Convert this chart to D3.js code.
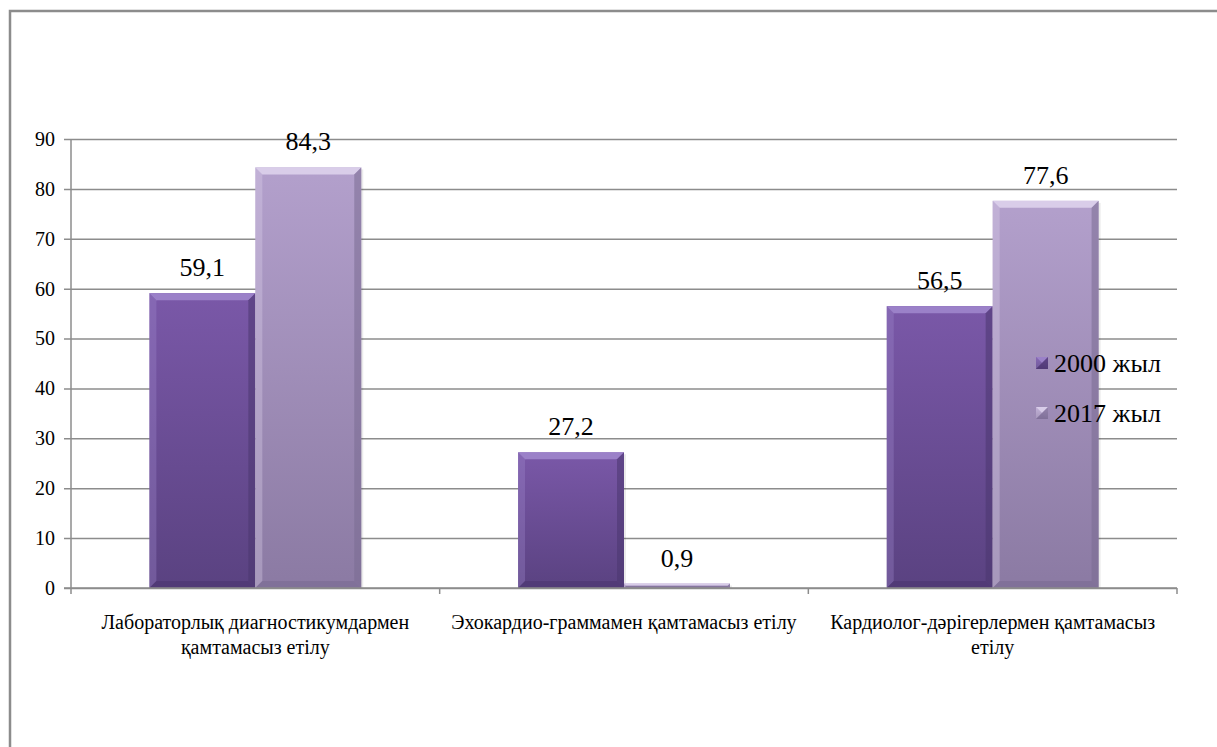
<!DOCTYPE html>
<html>
<head>
<meta charset="utf-8">
<title>Chart</title>
<style>
  body { margin: 0; background: #fff; }
  svg { display: block; }
</style>
</head>
<body>
<script src="https://cdn.jsdelivr.net/npm/d3@7"></script>
<script>
// chart data
const categories = [
  "Лабораторлық диагностикумдармен қамтамасыз етілу",
  "Эхокардио-граммамен қамтамасыз етілу",
  "Кардиолог-дәрігерлермен қамтамасыз етілу"
];
const seriesNames = ["2000 жыл", "2017 жыл"];
const values2000 = [59.1, 27.2, 56.5];
const values2017 = [84.3, 0.9, 77.6];
const yTicks = [0, 10, 20, 30, 40, 50, 60, 70, 80, 90];

const serif = "'Liberation Serif', Tinos, 'Times New Roman', 'Noto Serif', 'DejaVu Serif', FreeSerif, serif";
const width = 1217, height = 747;
const margin = { left: 71, right: 40, top: 139, bottom: 159 };

const svg = d3.select("body").append("svg")
    .attr("width", width)
    .attr("height", height)
    .attr("font-family", serif);

// gradients for the two series
const defs = svg.append("defs");
const palette = [
  { top: "#7a58a8", bottom: "#5a4281", light: "#9f86cc", dark: "#4b3670" },
  { top: "#b3a0cc", bottom: "#8b7aa3", light: "#ddd2ec", dark: "#7a6b92" }
];
palette.forEach((p, i) => {
  const g = defs.append("linearGradient")
      .attr("id", "grad" + i)
      .attr("x1", 0).attr("y1", 0).attr("x2", 0).attr("y2", 1);
  g.append("stop").attr("offset", "0%").attr("stop-color", p.top);
  g.append("stop").attr("offset", "100%").attr("stop-color", p.bottom);
});

// outer frame
svg.append("rect")
    .attr("x", 10).attr("y", 11)
    .attr("width", 1240).attr("height", 780)
    .attr("fill", "none")
    .attr("stroke", "#8c8c8c")
    .attr("stroke-width", 2.5);

const x0 = d3.scaleBand()
    .domain(categories)
    .range([margin.left, width - margin.right])
    .padding(0);

const x1 = d3.scaleBand()
    .domain(seriesNames)
    .range([0, x0.bandwidth()])
    .paddingInner(0)
    .paddingOuter(0.74);

const y = d3.scaleLinear()
    .domain([0, 90])
    .range([height - margin.bottom, margin.top]);

// gridlines + y axis
const yAxis = svg.append("g")
    .attr("transform", `translate(${margin.left},0)`)
    .call(d3.axisLeft(y)
        .tickValues(yTicks)
        .tickSize(-(width - margin.right - margin.left))
        .tickPadding(16)
        .tickFormat(d3.format("d")));
yAxis.attr("font-family", serif).attr("font-size", 20);
yAxis.select(".domain").remove();
yAxis.selectAll(".tick line")
    .attr("x1", -7)
    .attr("stroke", "#8c8c8c")
    .attr("stroke-width", 1.5);
yAxis.selectAll(".tick text")
    .attr("fill", "#000");

// vertical axis line
svg.append("line")
    .attr("x1", margin.left).attr("x2", margin.left)
    .attr("y1", y(90)).attr("y2", y(0) + 6)
    .attr("stroke", "#8c8c8c").attr("stroke-width", 1.5);

// category boundary ticks
const boundaries = categories.map(c => x0(c) + x0.bandwidth());
svg.selectAll(".cattick")
    .data(boundaries)
    .join("line")
    .attr("x1", d => d).attr("x2", d => d)
    .attr("y1", y(0)).attr("y2", y(0) + 6)
    .attr("stroke", "#8c8c8c").attr("stroke-width", 1.5);

// bars
const rows = [];
categories.forEach((c, i) => {
  rows.push({ cat: c, s: 0, value: values2000[i] });
  rows.push({ cat: c, s: 1, value: values2017[i] });
});

function drawBevelBar(g, bx, by, bw, bh, p, gradId) {
  g.append("rect")
      .attr("x", bx).attr("y", by)
      .attr("width", bw).attr("height", bh)
      .attr("fill", `url(#${gradId})`);
  const b = Math.min(7, bh / 2, bw / 2);
  const poly = (pts, fill, op) => g.append("polygon")
      .attr("points", pts.map(q => q.join(",")).join(" "))
      .attr("fill", fill).attr("opacity", op);
  // top
  poly([[bx, by], [bx + bw, by], [bx + bw - b, by + b], [bx + b, by + b]], p.light, 0.9);
  // left
  poly([[bx, by], [bx + b, by + b], [bx + b, by + bh - b], [bx, by + bh]], p.light, 0.35);
  // right
  poly([[bx + bw, by], [bx + bw, by + bh], [bx + bw - b, by + bh - b], [bx + bw - b, by + b]], p.dark, 0.55);
  // bottom
  poly([[bx, by + bh], [bx + b, by + bh - b], [bx + bw - b, by + bh - b], [bx + bw, by + bh]], p.dark, 0.6);
}

const barG = svg.append("g");
rows.forEach(d => {
  const bx = x0(d.cat) + x1(seriesNames[d.s]);
  const bw = x1.bandwidth();
  const by = y(d.value);
  const bh = y(0) - y(d.value);
  const g = barG.append("g");
  // soft shadow on the right side
  g.append("rect")
      .attr("x", bx + 2).attr("y", by + 2)
      .attr("width", bw).attr("height", bh - 2)
      .attr("fill", "#000").attr("opacity", 0.08);
  drawBevelBar(g, bx, by, bw, bh, palette[d.s], "grad" + d.s);
});

// x axis line (drawn over bar bottoms)
svg.append("line")
    .attr("x1", margin.left - 7).attr("x2", width - margin.right)
    .attr("y1", y(0)).attr("y2", y(0))
    .attr("stroke", "#8c8c8c").attr("stroke-width", 1.5);

// value labels
svg.selectAll(".vlabel")
    .data(rows)
    .join("text")
    .attr("x", d => x0(d.cat) + x1(seriesNames[d.s]) + x1.bandwidth() / 2)
    .attr("y", d => y(d.value) - 17)
    .attr("text-anchor", "middle")
    .attr("font-size", 26)
    .attr("fill", "#000")
    .text(d => d3.format(".1f")(d.value).replace(".", ","));

// category labels with wrapping
const catText = svg.selectAll(".clabel")
    .data(categories)
    .join("text")
    .attr("text-anchor", "middle")
    .attr("font-size", 20)
    .attr("fill", "#000")
    .attr("x", d => x0(d) + x0.bandwidth() / 2)
    .attr("y", 629);

catText.each(function(d) {
  const t = d3.select(this);
  const cx = x0(d) + x0.bandwidth() / 2;
  const words = d.split(" ");
  let line = [];
  let tspan = t.append("tspan").attr("x", cx).attr("dy", 0);
  words.forEach(w => {
    line.push(w);
    tspan.text(line.join(" "));
    if (tspan.node().getComputedTextLength() > x0.bandwidth() - 4 && line.length > 1) {
      line.pop();
      tspan.text(line.join(" "));
      line = [w];
      tspan = t.append("tspan").attr("x", cx).attr("dy", 25).text(w);
    }
  });
});

// legend
const legend = svg.append("g");
seriesNames.forEach((s, i) => {
  const ly = 363 + i * 50;
  const g = legend.append("g");
  drawBevelBar(g, 1036, ly - 6, 12, 12, palette[i], "grad" + i);
  g.append("text")
      .attr("x", 1054)
      .attr("y", ly + 9)
      .attr("font-size", 26)
      .attr("fill", "#000")
      .text(s);
});
</script>
</body>
</html>
